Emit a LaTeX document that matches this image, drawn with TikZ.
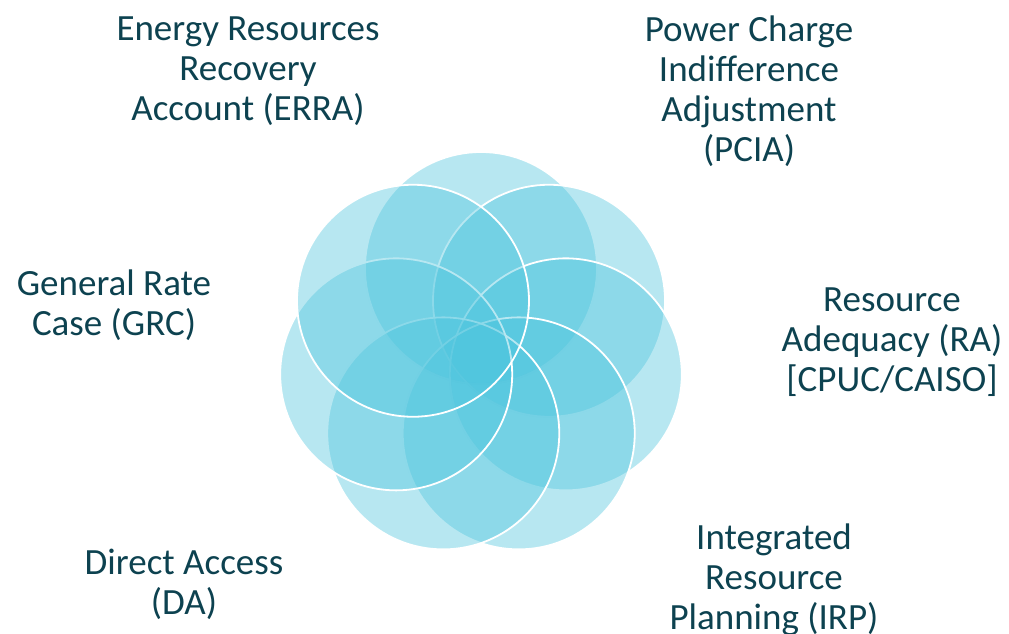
\documentclass[tikz,border=0pt]{standalone}
\usepackage{fontspec}
\setmainfont{Carlito}
\usepackage{tikz}
\usepackage{xcolor}
\usetikzlibrary{positioning, shapes}

\definecolor{petalblue}{RGB}{76,196,221}
\definecolor{labelteal}{RGB}{13,66,80}

\begin{document}
\begin{tikzpicture}[
    x=1pt, y=1pt,
    petal/.style={
        circle,
        minimum size=232pt,
        inner sep=0pt,
        draw=white,
        line width=1.8pt,
        fill=petalblue,
        fill opacity=0.4
    },
    mylabel/.style={
        align=center,
        anchor=base,
        text=labelteal,
        font=\fontsize{37}{40}\selectfont
    }
]
\useasboundingbox (0,0) rectangle (1009,634);
\coordinate (hub) at (481,279);

\node (petal1) [petal] at ([shift={(90:87pt)}]hub) {};
\node (petal2) [petal] at ([shift={(38.57:87pt)}]hub) {};
\node (petal3) [petal] at ([shift={(-12.86:87pt)}]hub) {};
\node (petal4) [petal] at ([shift={(-64.29:87pt)}]hub) {};
\node (petal5) [petal] at ([shift={(-115.71:87pt)}]hub) {};
\node (petal6) [petal] at ([shift={(-167.14:87pt)}]hub) {};
\node (petal7) [petal] at ([shift={(141.43:87pt)}]hub) {};

% labels sit on the baseline of their last line
\node (erra) [mylabel] at (248,513) {Energy Resources\\Recovery\\Account (ERRA)};
\node (pcia) [mylabel] at (749,472) {Power Charge\\Indifference\\Adjustment\\(PCIA)};
\node (grc) [mylabel] at (114,298) {General Rate\\Case (GRC)};
\node (ra) [mylabel] at (892,242) {Resource\\Adequacy (RA)\\{[CPUC/CAISO]}};
\node (da) [mylabel] at (184,19) {Direct Access\\(DA)};
\node (irp) [mylabel] at (774,4) {Integrated\\Resource\\Planning (IRP)};
\end{tikzpicture}
\end{document}
